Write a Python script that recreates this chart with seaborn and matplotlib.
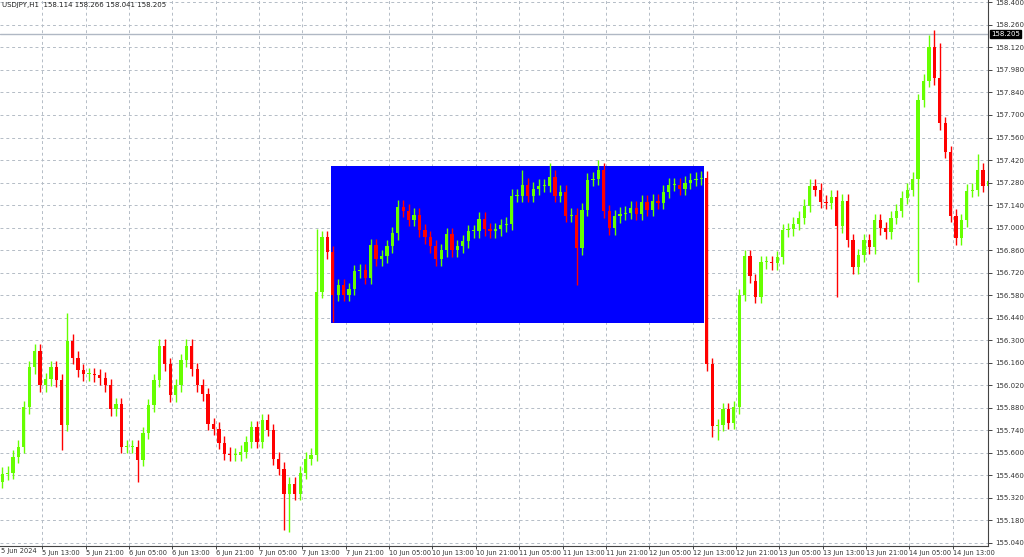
import numpy as np
import pandas as pd
import matplotlib
matplotlib.use("Agg")
import matplotlib.pyplot as plt
from matplotlib.patches import Rectangle
import seaborn as sns

closes = [155.470,155.476,155.575,155.637,155.883,156.130,156.235,156.019,156.056,156.130,
          156.050,155.772,156.297,156.192,156.112,156.087,156.087,156.081,156.062,156.019,
          155.871,155.902,155.637,155.637,155.637,155.556,155.723,155.896,156.050,156.266,
          156.149,155.958,156.019,156.174,156.266,156.118,156.019,155.964,155.779,155.748,
          155.661,155.593,155.587,155.587,155.606,155.667,155.760,155.667,155.803,155.741,
          155.562,155.501,155.346,155.408,155.346,155.476,155.562,155.587,156.600,156.939,
          156.846,156.581,156.643,156.581,156.618,156.729,156.735,156.686,156.890,156.803,
          156.822,156.883,156.964,157.130,157.106,157.050,157.081,156.982,156.939,156.883,
          156.803,156.859,156.958,156.859,156.883,156.914,156.976,156.976,157.056,156.988,
          156.976,156.988,157.013,157.025,157.198,157.198,157.266,157.198,157.241,157.260,
          157.260,157.316,157.198,157.223,157.075,157.081,156.871,157.112,157.297,157.303,
          157.359,157.100,156.995,157.069,157.087,157.093,157.124,157.087,157.161,157.112,
          157.167,157.155,157.223,157.266,157.266,157.241,157.279,157.297,157.303,157.310,
          156.149,155.766,155.772,155.871,155.785,155.883,156.581,156.822,156.698,156.569,
          156.785,156.785,156.779,156.816,156.982,156.988,157.025,157.062,157.137,157.260,
          157.235,157.161,157.155,157.192,157.007,157.167,156.920,156.754,156.828,156.920,
          156.877,157.044,156.995,156.970,157.062,157.106,157.186,157.235,157.303,157.791,
          157.914,158.124,157.927,157.649,157.470,157.075,156.933,157.044,157.229,157.235,
          157.359,157.260,157.291]
first_open = 155.420
gap_opens = {139: 156.670}
# notable wick extremes
high_marks = {12: 156.470, 58: 156.990, 96: 157.360, 101: 157.400, 110: 157.420,
              171: 158.200, 172: 158.230, 173: 158.150, 182: 157.350, 180: 157.460}
low_marks = {52: 155.120, 53: 155.110, 61: 156.410, 106: 156.640, 154: 156.570,
             169: 156.660, 11: 155.620, 25: 155.420, 131: 155.700, 132: 155.680}
wick = 0.04

price_ticks = [round(155.04 + 0.14 * k, 3) for k in range(25)]
date_labels = ["5 Jun 13:00", "5 Jun 21:00", "6 Jun 05:00", "6 Jun 13:00", "6 Jun 21:00",
               "7 Jun 05:00", "7 Jun 13:00", "7 Jun 21:00", "10 Jun 05:00", "10 Jun 13:00",
               "10 Jun 21:00", "11 Jun 05:00", "11 Jun 13:00", "11 Jun 21:00", "12 Jun 05:00",
               "12 Jun 13:00", "12 Jun 21:00", "13 Jun 05:00", "13 Jun 13:00", "13 Jun 21:00",
               "14 Jun 05:00", "14 Jun 13:00"]
box_top, box_bottom = 157.383, 156.408
last_price = 158.205

n = len(closes)
opens = [first_open] + closes[:-1]
for k, v in gap_opens.items():
    opens[k] = v
df = pd.DataFrame({"i": np.arange(n), "open": opens, "close": closes})
df["top"] = df[["open", "close"]].max(axis=1)
df["bot"] = df[["open", "close"]].min(axis=1)
df["high"] = [high_marks.get(i, t + wick) for i, t in enumerate(df["top"])]
df["low"] = [low_marks.get(i, b - wick) for i, b in enumerate(df["bot"])]
df["up"] = df["close"] >= df["open"]

sns.set_theme(style="white")
plt.rcParams['font.family'] = ['DejaVu Sans']
fig = plt.figure(figsize=(10.24, 5.57), dpi=100)
ax = fig.add_axes([0.0, 11 / 557, 988 / 1024, 546 / 557])
ax.set_facecolor("white")

ax.set_xlim(-0.4, 181.9)
ax.set_ylim(155.02, 158.415)

ax.add_patch(Rectangle((60.6, box_bottom), 129.5 - 60.6, box_top - box_bottom,
                       facecolor="#0000FF", edgecolor="none", zorder=1))

grid_c = "#b4bcc6"
xt = [7.4 + 8 * k for k in range(len(date_labels))]
for x in xt:
    ax.axvline(x, color=grid_c, lw=0.7, ls=(0, (3, 3)), zorder=0.5)
for p in price_ticks:
    ax.axhline(p, color=grid_c, lw=0.7, ls=(0, (3, 3)), zorder=0.5)
ax.axhline(last_price, color="#b0b8c4", lw=1.0, zorder=0.6)

green, red = "#66FF00", "#FF0000"
cols = [green if u else red for u in df["up"]]
ax.vlines(df["i"], df["low"], df["high"], colors=cols, lw=1.0, zorder=3)
heights = (df["top"] - df["bot"]).clip(lower=0.006)
ax.bar(df["i"], heights, bottom=df["bot"], width=0.6, color=cols, linewidth=0, zorder=4)

ax.yaxis.tick_right()
ax.set_yticks(price_ticks)
ax.set_yticklabels([f"{p:.3f}" for p in price_ticks], fontsize=5, color="#333333")
ax.tick_params(axis="y", length=3, width=0.6, pad=2, direction="out", right=True)
ax.set_xticks(xt)
ax.set_xticklabels(date_labels, fontsize=4.8, ha="left", color="#333333")
ax.tick_params(axis="x", length=2, width=0.6, pad=1, direction="out", bottom=True)
ax.text(0.001, -0.004, "5 Jun 2024", fontsize=4.8, color="#333333", ha="left", va="top",
        transform=ax.transAxes)
for s in ["top", "left"]:
    ax.spines[s].set_visible(False)
for s in ["right", "bottom"]:
    ax.spines[s].set_color("#444444")
    ax.spines[s].set_linewidth(0.8)

ax.text(1.003, last_price, f"{last_price:.3f}", transform=ax.get_yaxis_transform(),
        fontsize=5, color="white", va="center", ha="left",
        bbox=dict(boxstyle="square,pad=0.15", fc="black", ec="black"), zorder=10)
ax.text(0.002, 0.997, "USDJPY,H1  158.114 158.266 158.041 158.205", transform=ax.transAxes,
        fontsize=5, color="#222222", va="top", ha="left")

fig.savefig("out.png", dpi=100)
